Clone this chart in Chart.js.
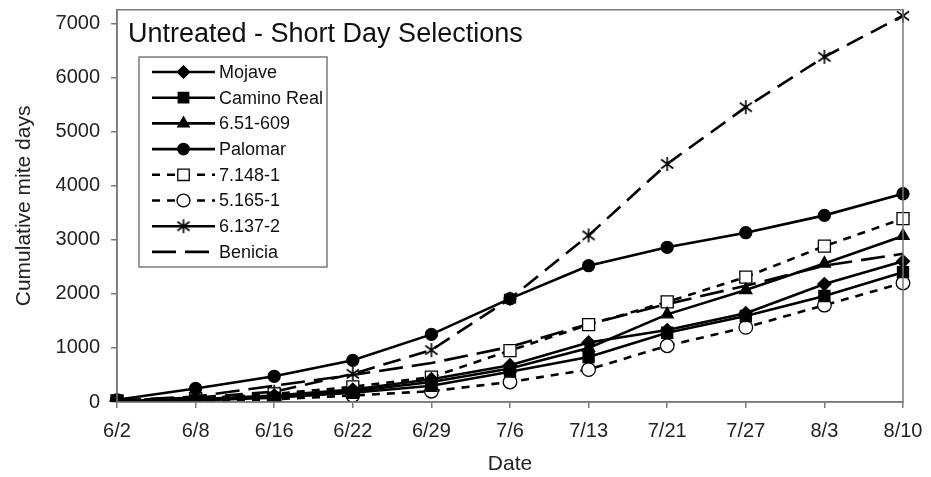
<!DOCTYPE html>
<html>
<head>
<meta charset="utf-8">
<script src="https://cdn.jsdelivr.net/npm/chart.js@4/dist/chart.umd.min.js"></script>
<style>
  html, body { margin: 0; padding: 0; background: #fff; }
  #wrap { width: 931px; height: 477px; position: relative; }
</style>
</head>
<body>
<div id="wrap"><canvas id="c" width="931" height="477"></canvas></div>
<script>
// ---- data ----
const dates = ['6/2','6/8','6/16','6/22','6/29','7/6','7/13','7/21','7/27','8/3','8/10'];
const seriesNames = ['Mojave','Camino Real','6.51-609','Palomar','7.148-1','5.165-1','6.137-2','Benicia'];
const mojave     = [20, 50, 120, 230, 420, 680, 1100, 1330, 1640, 2180, 2600];
const caminoReal = [20, 30, 80, 170, 300, 560, 830, 1280, 1590, 1960, 2400];
const sel651609  = [20, 40, 100, 200, 370, 620, 1000, 1620, 2070, 2560, 3070];
const palomar    = [40, 250, 475, 770, 1250, 1910, 2520, 2860, 3130, 3450, 3850];
const sel7148    = [20, 60, 150, 280, 460, 950, 1430, 1850, 2310, 2880, 3390];
const sel5165    = [20, 20, 50, 120, 200, 370, 600, 1040, 1380, 1790, 2200];
const sel6137    = [30, 80, 190, 520, 960, 1910, 3080, 4400, 5450, 6380, 7140];
const benicia    = [30, 100, 300, 500, 720, 1020, 1440, 1810, 2150, 2520, 2740];
const yTicks     = [0, 1000, 2000, 3000, 4000, 5000, 6000, 7000];
const chartTitle = 'Untreated - Short Day Selections';
const xTitle = 'Date';
const yTitle = 'Cumulative mite days';

// asterisk marker
function makeAsterisk(size) {
  const c = document.createElement('canvas');
  c.width = size; c.height = size;
  const g = c.getContext('2d');
  const r = size / 2 - 1, cx = size / 2, cy = size / 2;
  g.strokeStyle = '#000'; g.lineWidth = 1.6; g.lineCap = 'butt';
  g.beginPath();
  g.moveTo(cx, cy - r); g.lineTo(cx, cy + r);
  const a = Math.PI / 6;
  g.moveTo(cx - r * Math.cos(a), cy - r * Math.sin(a) - 1); g.lineTo(cx + r * Math.cos(a), cy + r * Math.sin(a) + 1);
  g.moveTo(cx + r * Math.cos(a), cy - r * Math.sin(a) - 1); g.lineTo(cx - r * Math.cos(a), cy + r * Math.sin(a) + 1);
  g.stroke();
  return c;
}
const asterisk = makeAsterisk(16);

const FONT = "'Liberation Sans', Arial, Helvetica, sans-serif";
const LW = 2.6;

function ds(label, data, style, radius, fill, dash, legendDash) {
  return {
    label, data,
    borderColor: '#000', borderWidth: LW, borderDash: dash,
    pointStyle: style, pointRadius: radius, pointHoverRadius: radius,
    pointBackgroundColor: fill, pointBorderColor: '#000', pointBorderWidth: 1.3,
    tension: 0, fill: false,
    legendDash: legendDash
  };
}

const datasets = [
  ds(seriesNames[0], mojave, 'rectRot', 6.5, '#000', [], []),
  ds(seriesNames[1], caminoReal, 'rect', 7.8, '#000', [], []),
  ds(seriesNames[2], sel651609, 'triangle', 7, '#000', [], []),
  ds(seriesNames[3], palomar, 'circle', 6, '#000', [], []),
  ds(seriesNames[4], sel7148, 'rect', 8.5, '#fff', [8, 7], [8, 7]),
  ds(seriesNames[5], sel5165, 'circle', 6.8, '#fff', [8, 7], [8, 7]),
  ds(seriesNames[6], sel6137, asterisk, 8, '#000', [18, 9], []),
  ds(seriesNames[7], benicia, 'circle', 0, '#000', [24, 9], [24, 9])
];

const framePlugin = {
  id: 'frame',
  afterDraw(chart) {
    const {ctx, chartArea: a} = chart;
    ctx.save();
    ctx.strokeStyle = '#7a7a7a';
    ctx.lineWidth = 1.5;
    ctx.strokeRect(a.left, a.top, a.right - a.left, a.bottom - a.top);
    // title inside plot
    ctx.fillStyle = '#111';
    ctx.font = '27px ' + FONT;
    ctx.textAlign = 'left';
    ctx.textBaseline = 'alphabetic';
    ctx.fillText(chartTitle, 128, 42);
    // legend
    const bx = 139, by = 57, bw = 188, bh = 210;
    ctx.fillStyle = '#fff';
    ctx.fillRect(bx, by, bw, bh);
    ctx.strokeStyle = '#7a7a7a';
    ctx.lineWidth = 1.5;
    ctx.strokeRect(bx, by, bw, bh);
    const rowY0 = 72, rowH = 25.7;
    chart.data.datasets.forEach((d, i) => {
      const y = rowY0 + i * rowH;
      ctx.save();
      ctx.strokeStyle = '#000';
      ctx.lineWidth = LW;
      ctx.setLineDash(d.legendDash);
      ctx.beginPath();
      ctx.moveTo(152, y); ctx.lineTo(215, y);
      ctx.stroke();
      ctx.restore();
      if (d.pointRadius > 0) {
        ctx.save();
        ctx.fillStyle = d.pointBackgroundColor;
        ctx.strokeStyle = '#000';
        ctx.lineWidth = 1.3;
        Chart.helpers.drawPoint(ctx, {pointStyle: d.pointStyle, rotation: 0, radius: d.pointRadius * 0.95, borderWidth: 1.3}, 183.5, y);
        ctx.restore();
      }
      ctx.fillStyle = '#111';
      ctx.font = '18px ' + FONT;
      ctx.textBaseline = 'middle';
      ctx.textAlign = 'left';
      ctx.fillText(d.label, 219, y + 1);
    });
    ctx.restore();
  }
};

new Chart(document.getElementById('c'), {
  type: 'line',
  data: { labels: dates, datasets },
  plugins: [framePlugin],
  options: {
    responsive: false,
    animation: false,
    layout: { padding: { top: 5, right: 28, left: 0, bottom: 0 } },
    plugins: { legend: { display: false }, title: { display: false }, tooltip: { enabled: false } },
    scales: {
      x: {
        type: 'category',
        offset: false,
        afterFit(s) { s.height = 75; s.paddingLeft = 0; s.paddingRight = 0; },
        grid: { display: true, drawOnChartArea: false, drawTicks: true, tickLength: 6, color: '#7a7a7a', lineWidth: 1.5 },
        border: { display: true, color: '#7a7a7a', width: 1.5 },
        ticks: { color: '#222', font: { family: FONT, size: 20 }, padding: 11, maxRotation: 0, autoSkip: false },
        title: { display: true, text: xTitle, color: '#222', font: { family: FONT, size: 21 }, padding: { top: 0, bottom: 0 } }
      },
      y: {
        type: 'linear',
        min: 0, max: 7250,
        afterFit(s) { s.width = 117; s.paddingTop = 0; s.paddingBottom = 0; },
        afterBuildTicks(s) { s.ticks = yTicks.map(v => ({ value: v })); },
        grid: { display: true, drawOnChartArea: false, drawTicks: true, tickLength: 6, color: '#7a7a7a', lineWidth: 1.5 },
        border: { display: true, color: '#7a7a7a', width: 1.5 },
        ticks: { color: '#222', font: { family: FONT, size: 20 }, padding: 11, callback: v => String(v) },
        title: { display: true, text: yTitle, color: '#222', font: { family: FONT, size: 21 }, padding: { top: 12, bottom: 0 } }
      }
    }
  }
});
</script>
</body>
</html>
